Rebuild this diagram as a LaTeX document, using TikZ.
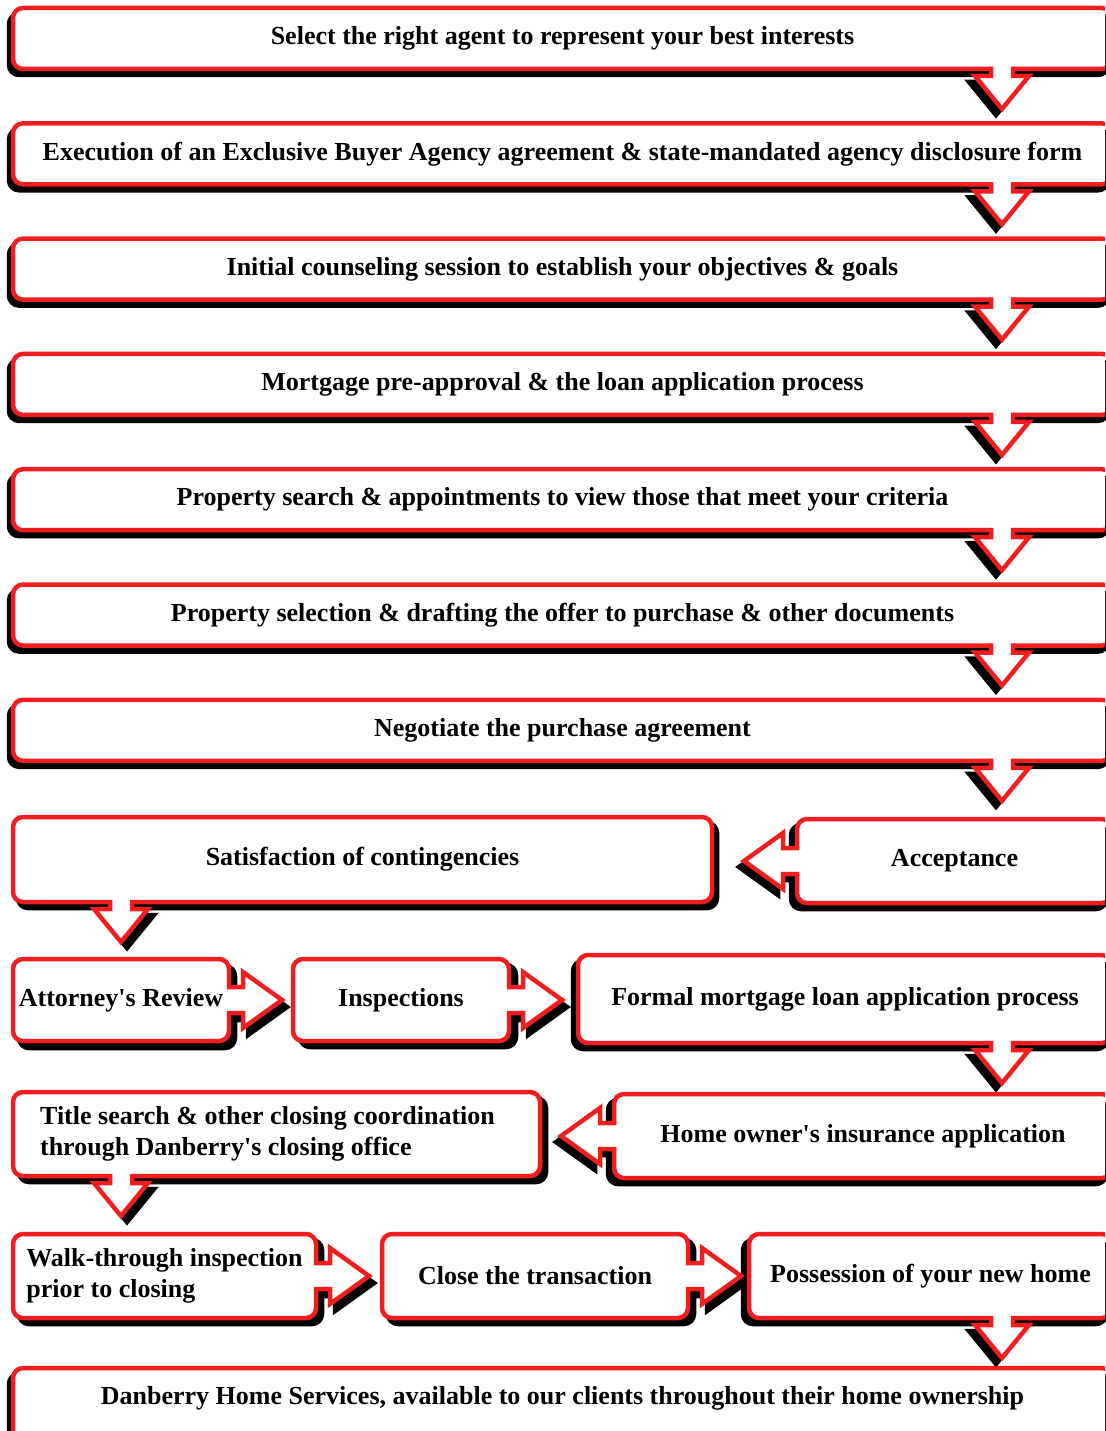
\documentclass[tikz,border=0pt]{standalone}
\usepackage{fontspec}
\setmainfont{Liberation Serif}[Ligatures=TeXOff]
\usetikzlibrary{calc}
\pgfdeclarelayer{bg}
\pgfdeclarelayer{shadow}
\pgfsetlayers{bg,shadow,main}
\definecolor{boxred}{RGB}{240,30,30}
\tikzset{
  box/.style={draw=boxred, line width=4.5pt, rounded corners=10pt, fill=white,
    outer sep=0pt, inner sep=0pt, font=\fontsize{26}{31}\selectfont\bfseries},
  shad/.style={fill=black, draw=black, line width=4.5pt, rounded corners=10pt},
  ashad/.style={fill=black, draw=black, line width=4.5pt},
  arrline/.style={draw=boxred, line width=4.5pt, line join=miter},
}
\newcommand\BoxShadow[3]{%
  \begin{pgfonlayer}{shadow}
    \draw[shad] ([shift={(#2,#3)}]#1.north west) rectangle ([shift={(#2,#3)}]#1.south east);
  \end{pgfonlayer}}
\newcommand\DnArrow[3]{%
  \begin{pgfonlayer}{shadow}
    \draw[ashad, shift={#1}, shift={(#2,#3)}] (-11,-4) -- (-11,7) -- (-27,7) -- (0,40) -- (27,7) -- (11,7) -- (11,-4) -- cycle;
  \end{pgfonlayer}
  \fill[white, shift={#1}] (-11,-4) -- (-11,7) -- (-27,7) -- (0,40) -- (27,7) -- (11,7) -- (11,-4) -- cycle;
  \draw[arrline, shift={#1}] (-11,-2.25) -- (-11,7) -- (-27,7) -- (0,40) -- (27,7) -- (11,7) -- (11,-2.25);}
\newcommand\RtArrow[3]{%
  \begin{pgfonlayer}{shadow}
    \draw[ashad, shift={#1}, shift={(#2,#3)}] (-4,-13) -- (14,-13) -- (14,-28) -- (53,0) -- (14,28) -- (14,13) -- (-4,13) -- cycle;
  \end{pgfonlayer}
  \fill[white, shift={#1}] (-4,-13) -- (14,-13) -- (14,-28) -- (53,0) -- (14,28) -- (14,13) -- (-4,13) -- cycle;
  \draw[arrline, shift={#1}] (-2.25,-13) -- (14,-13) -- (14,-28) -- (53,0) -- (14,28) -- (14,13) -- (-2.25,13);}
\newcommand\LfArrow[3]{%
  \begin{pgfonlayer}{shadow}
    \draw[ashad, shift={#1}, shift={(#2,#3)}] (4,-13) -- (-14,-13) -- (-14,-28) -- (-53,0) -- (-14,28) -- (-14,13) -- (4,13) -- cycle;
  \end{pgfonlayer}
  \fill[white, shift={#1}] (4,-13) -- (-14,-13) -- (-14,-28) -- (-53,0) -- (-14,28) -- (-14,13) -- (4,13) -- cycle;
  \draw[arrline, shift={#1}] (2.25,-13) -- (-14,-13) -- (-14,-28) -- (-53,0) -- (-14,28) -- (-14,13) -- (2.25,13);}
\begin{document}
\begin{tikzpicture}[x=1pt,y=-1pt]
\clip (0,0) rectangle (1105,1431);
\begin{pgfonlayer}{bg}
\fill[white] (0,0) rectangle (1105,1431);
\end{pgfonlayer}
% main column
\node[box, minimum width=1099pt, minimum height=61pt] (b1) at (562.5,38.5) {Select the right agent to represent your best interests};
\node[box, minimum width=1099pt, minimum height=61pt] (b2) at (562.5,153.8) {Execution of an Exclusive Buyer Agency agreement \& state-mandated agency disclosure form};
\node[box, minimum width=1099pt, minimum height=61pt] (b3) at (562.5,269.1) {Initial counseling session to establish your objectives \& goals};
\node[box, minimum width=1099pt, minimum height=61pt] (b4) at (562.5,384.4) {Mortgage pre-approval \& the loan application process};
\node[box, minimum width=1099pt, minimum height=61pt] (b5) at (562.5,499.7) {Property search \& appointments to view those that meet your criteria};
\node[box, minimum width=1099pt, minimum height=61pt] (b6) at (562.5,615) {Property selection \& drafting the offer to purchase \& other documents};
\node[box, minimum width=1099pt, minimum height=61pt] (b7) at (562.5,730.3) {Negotiate the purchase agreement};
% lower part
\node[box, minimum width=699pt, minimum height=85pt] (sat) at (362.5,859.5) {Satisfaction of contingencies};
\node[box, minimum width=315pt, minimum height=84pt] (acc) at (954.5,861) {Acceptance};
\node[box, minimum width=216pt, minimum height=82pt] (att) at (121,1000) {Attorney's Review};
\node[box, minimum width=216pt, minimum height=82pt] (ins) at (401,1000) {Inspections};
\node[box, minimum width=534pt, minimum height=88pt] (for) at (845,999) {Formal mortgage loan application process};
\node[box, minimum width=527pt, minimum height=84pt, align=left] (tit) at (276.5,1134) {Title search \& other closing coordination\hspace*{18pt}\\through Danberry's closing office};
\node[box, minimum width=498pt, minimum height=84pt] (hom) at (863,1136) {Home owner's insurance application};
\node[box, minimum width=303pt, minimum height=84pt, align=left] (wal) at (164.5,1276) {Walk-through inspection\\prior to closing};
\node[box, minimum width=306pt, minimum height=84pt] (clo) at (535,1276) {Close the transaction};
\node[box, minimum width=363pt, minimum height=84pt] (pos) at (930.5,1276) {Possession of your new home};
\node[box, minimum width=1099pt, minimum height=84pt, text depth=30pt] (dan) at (562.5,1410) {Danberry Home Services, available to our clients throughout their home ownership};
% box shadows
\BoxShadow{b1}{-4}{6}\BoxShadow{b2}{-4}{6}\BoxShadow{b3}{-4}{6}\BoxShadow{b4}{-4}{6}
\BoxShadow{b5}{-4}{6}\BoxShadow{b6}{-4}{6}\BoxShadow{b7}{-4}{6}\BoxShadow{dan}{-4}{6}
\BoxShadow{sat}{5}{6}\BoxShadow{acc}{-6}{6}
\BoxShadow{att}{6}{7}\BoxShadow{ins}{7}{6}\BoxShadow{for}{-5}{6}
\BoxShadow{tit}{6}{6}\BoxShadow{hom}{-6}{6}
\BoxShadow{wal}{6}{6}\BoxShadow{clo}{6}{6}\BoxShadow{pos}{-6}{6}
% connectors
\DnArrow{($(b1.south east)+(-110,0)$)}{-6}{6}
\DnArrow{($(b2.south east)+(-110,0)$)}{-6}{6}
\DnArrow{($(b3.south east)+(-110,0)$)}{-6}{6}
\DnArrow{($(b4.south east)+(-110,0)$)}{-6}{6}
\DnArrow{($(b5.south east)+(-110,0)$)}{-6}{6}
\DnArrow{($(b6.south east)+(-110,0)$)}{-6}{6}
\DnArrow{($(b7.south east)+(-110,0)$)}{-6}{6}
\LfArrow{(acc.west)}{-5}{6}
\DnArrow{($(sat.south west)+(108,0)$)}{6}{6}
\RtArrow{(att.east)}{5}{7}
\RtArrow{(ins.east)}{5}{7}
\DnArrow{($(for.south east)+(-110,0)$)}{-6}{6}
\LfArrow{(hom.west)}{-5}{6}
\DnArrow{($(tit.south west)+(108,0)$)}{6}{6}
\RtArrow{(wal.east)}{5}{7}
\RtArrow{(clo.east)}{5}{7}
\DnArrow{($(pos.south east)+(-110,0)$)}{-6}{6}
\end{tikzpicture}
\end{document}
